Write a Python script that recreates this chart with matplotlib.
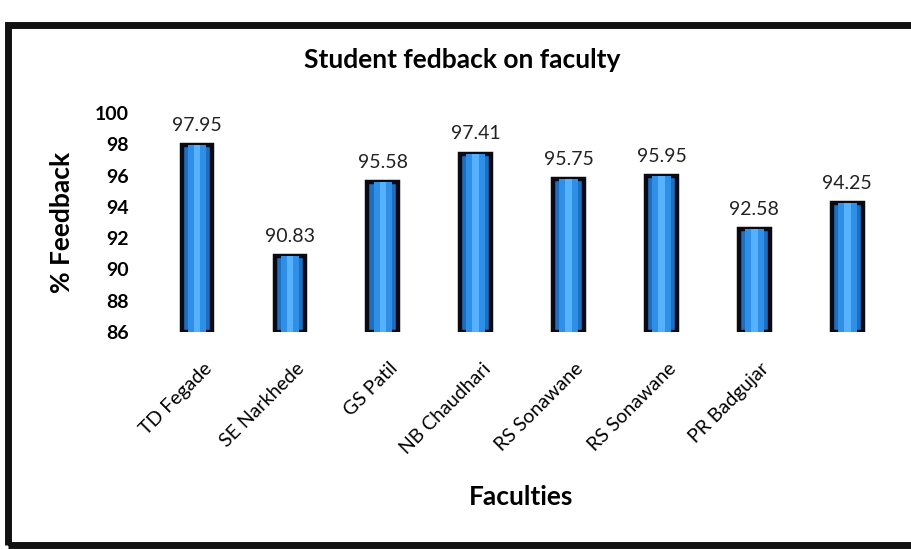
import matplotlib
matplotlib.use("Agg")
import matplotlib.pyplot as plt
from matplotlib.patches import Rectangle
from matplotlib.transforms import ScaledTranslation

faculties = ["TD Fegade", "SE Narkhede", "GS Patil", "NB Chaudhari",
             "RS Sonawane", "RS Sonawane", "PR Badgujar", ""]
feedback = [97.95, 90.83, 95.58, 97.41, 95.75, 95.95, 92.58, 94.25]
yticks = [86, 88, 90, 92, 94, 96, 98, 100]
baseline = 86

plt.rcParams['font.family'] = ['Lato', 'DejaVu Sans']

fig = plt.figure(figsize=(9.11, 5.49), dpi=100)
fig.patch.set_facecolor('white')

# outer frame of the photographed chart
fig.patches.append(Rectangle((8/911, 1-545/549), 1.02 - 8/911, (545-25)/549,
                             transform=fig.transFigure, fill=False,
                             edgecolor='#111111', linewidth=5, zorder=0))

ax = fig.add_axes([140/911, 1-332/549, 750/911, (332-113)/549])
x = list(range(len(feedback)))
heights = [v - baseline for v in feedback]

ax.bar(x, heights, bottom=baseline, width=0.33, color='#1f6fc0',
       edgecolor='#0a0a14', linewidth=3.2, zorder=2)
ax.bar(x, heights, bottom=baseline, width=0.2, color='#2f8ee6',
       linewidth=0, zorder=3)
ax.bar(x, heights, bottom=baseline, width=0.07, color='#56b2ff',
       linewidth=0, zorder=4)

for xi, v in zip(x, feedback):
    ax.annotate(f"{v:.2f}", (xi, v), xytext=(0, 8), textcoords='offset points',
                ha='center', va='bottom', fontsize=14, color='#222222')

ax.set_ylim(86, 100)
ax.set_xlim(-0.614, 7.46)
ax.set_yticks(yticks)
ax.set_yticklabels([str(t) for t in yticks], fontsize=14, fontweight='bold')
ax.set_xticks(x)
ax.set_xticklabels(faculties, rotation=45, ha='right', rotation_mode='anchor',
                   fontsize=14)
ax.tick_params(axis='both', length=0, pad=8)
ax.tick_params(axis='x', pad=20)
shift = ScaledTranslation(6/100, 0, fig.dpi_scale_trans)
for lbl in ax.get_xticklabels():
    lbl.set_transform(lbl.get_transform() + shift)
for s in ax.spines.values():
    s.set_visible(False)

fig.text(62/911, 1-222/549, "% Feedback", ha='center', va='center',
         rotation=90, fontsize=19, fontweight='bold')
fig.text(462/911, 1-60/549, "Student fedback on faculty", ha='center',
         va='center', fontsize=19, fontweight='bold')
fig.text(521/911, 1-497/549, "Faculties", ha='center', va='center',
         fontsize=19, fontweight='bold')

fig.savefig("out.png", dpi=100, facecolor='white')
